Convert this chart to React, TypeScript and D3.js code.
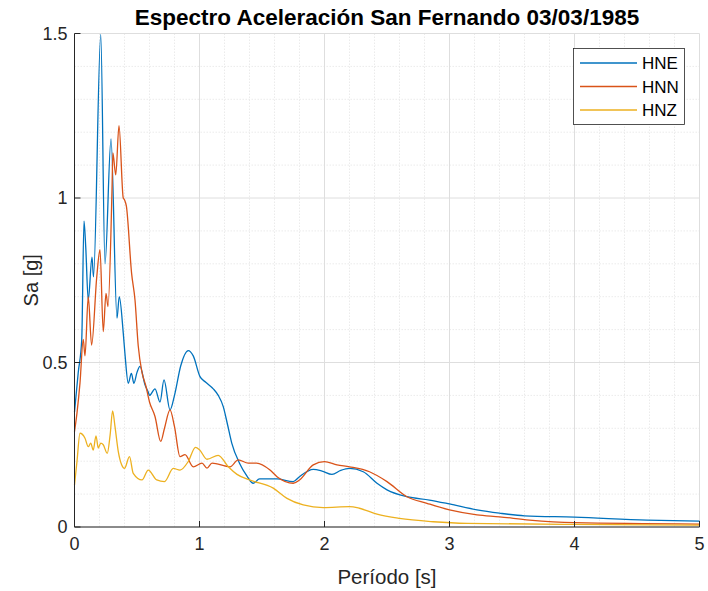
import React from "react";
import * as d3 from "d3";

const hneT = [0,0.03,0.058,0.076,0.09,0.11,0.14,0.152,0.21,0.244,0.292,0.34,0.358,0.39,0.405,0.43,0.455,0.475,0.5,0.524,0.564,0.59,0.6,0.644,0.684,0.716,0.764,0.8,0.85,0.91,0.95,1.004,1.05,1.11,1.15,1.19,1.225,1.258,1.32,1.38,1.43,1.48,1.62,1.75,1.8,1.91,1.98,2.06,2.13,2.2,2.31,2.42,2.5,2.66,2.84,3.0,3.22,3.4,3.6,4.0,4.58,5.0];
const hneV = [0.35,0.47,0.57,0.93,0.85,0.69,0.82,0.76,1.497,0.8,1.18,0.635,0.7,0.59,0.52,0.437,0.467,0.437,0.47,0.488,0.432,0.41,0.4,0.42,0.38,0.447,0.356,0.4,0.49,0.536,0.52,0.457,0.44,0.42,0.4,0.366,0.31,0.255,0.194,0.155,0.133,0.146,0.146,0.138,0.153,0.175,0.17,0.16,0.172,0.178,0.168,0.133,0.113,0.092,0.082,0.07,0.052,0.042,0.034,0.03,0.021,0.018];

const hnnT = [0,0.02,0.044,0.07,0.084,0.11,0.137,0.178,0.204,0.23,0.252,0.268,0.3,0.307,0.33,0.356,0.39,0.4,0.415,0.457,0.484,0.51,0.54,0.57,0.6,0.644,0.69,0.72,0.764,0.8,0.844,0.884,0.95,1.02,1.06,1.1,1.244,1.31,1.39,1.457,1.564,1.62,1.75,1.8,1.91,2.0,2.1,2.2,2.36,2.5,2.66,2.82,3.0,3.22,3.4,3.64,4.0,5.0];
const hnnV = [0.29,0.347,0.438,0.57,0.52,0.7,0.553,0.76,0.843,0.594,0.71,0.67,1.025,1.137,1.07,1.22,1.0,0.995,0.975,0.77,0.69,0.55,0.47,0.43,0.38,0.336,0.26,0.3,0.356,0.305,0.214,0.22,0.183,0.194,0.179,0.194,0.183,0.204,0.194,0.194,0.173,0.153,0.133,0.143,0.189,0.199,0.189,0.183,0.168,0.138,0.092,0.072,0.052,0.037,0.031,0.021,0.013,0.009];

const hnzT = [0,0.02,0.044,0.084,0.11,0.13,0.15,0.172,0.19,0.21,0.23,0.262,0.285,0.305,0.324,0.35,0.377,0.4,0.44,0.47,0.54,0.59,0.658,0.72,0.79,0.844,0.91,0.968,1.0,1.06,1.15,1.23,1.3,1.4,1.59,1.7,1.83,1.99,2.2,2.28,2.42,2.6,2.87,3.14,4.0,5.0];
const hnzV = [0.128,0.2,0.285,0.27,0.244,0.255,0.234,0.277,0.24,0.255,0.25,0.224,0.28,0.353,0.305,0.23,0.189,0.178,0.214,0.163,0.143,0.173,0.143,0.138,0.178,0.173,0.199,0.242,0.235,0.206,0.218,0.183,0.16,0.143,0.118,0.087,0.067,0.059,0.062,0.057,0.039,0.026,0.016,0.011,0.008,0.006];

const seriesNames = ["HNE", "HNN", "HNZ"];
const seriesColors = ["#0072BD", "#D95319", "#EDB120"];
const xTicks = [0, 1, 2, 3, 4, 5];
const yTicks = [0, 0.5, 1, 1.5];
const titleText = "Espectro Aceleración San Fernando 03/03/1985";
const xLabel = "Período [s]";
const yLabel = "Sa [g]";

export default function App() {
  const W = 708, H = 591;
  const L = 74.5, R = 699.5, T = 33.5, B = 527;
  const x = d3.scaleLinear().domain([0, 5]).range([L, R]);
  const y = d3.scaleLinear().domain([0, 1.5]).range([B, T]);
  const line = d3.line<[number, number]>().x(d => x(d[0])).y(d => y(d[1])).curve(d3.curveMonotoneX);
  const data = [
    hneT.map((t, i) => [t, hneV[i]] as [number, number]),
    hnnT.map((t, i) => [t, hnnV[i]] as [number, number]),
    hnzT.map((t, i) => [t, hnzV[i]] as [number, number]),
  ];
  const minorX = d3.range(0, 5.001, 0.2).filter(v => Math.abs(v - Math.round(v)) > 1e-6);
  const minorY = d3.range(0, 1.5001, 0.1).filter(v => Math.abs(v * 2 - Math.round(v * 2)) > 1e-6);
  const font = "'Liberation Sans', Arial, Helvetica, sans-serif";
  const tc = "#262626";
  return (
    <svg width={W} height={H} style={{ position: "absolute", left: 0, top: 0, background: "#fff" }} fontFamily={font}>
      <rect x={0} y={0} width={W} height={H} fill="#fff" />
      {minorX.map((v, i) => (
        <line key={"mx" + i} x1={x(v)} x2={x(v)} y1={T} y2={B} stroke="#e6e6e6" strokeWidth={0.8} strokeDasharray="1.5,1.5" />
      ))}
      {minorY.map((v, i) => (
        <line key={"my" + i} x1={L} x2={R} y1={y(v)} y2={y(v)} stroke="#e6e6e6" strokeWidth={0.8} strokeDasharray="1.5,1.5" />
      ))}
      {xTicks.map((v, i) => (
        <line key={"gx" + i} x1={x(v)} x2={x(v)} y1={T} y2={B} stroke="#dedede" strokeWidth={1} />
      ))}
      {yTicks.map((v, i) => (
        <line key={"gy" + i} x1={L} x2={R} y1={y(v)} y2={y(v)} stroke="#dedede" strokeWidth={1} />
      ))}
      {data.map((d, i) => (
        <path key={"s" + i} d={line(d) || ""} fill="none" stroke={seriesColors[i]} strokeWidth={1.3} strokeLinejoin="round" />
      ))}
      <line x1={L} x2={L} y1={T} y2={B} stroke={tc} strokeWidth={1} />
      <line x1={L} x2={R} y1={B} y2={B} stroke={tc} strokeWidth={1} />
      {xTicks.map((v, i) => (
        <g key={"xt" + i}>
          <line x1={x(v)} x2={x(v)} y1={B} y2={B - 6} stroke={tc} strokeWidth={1} />
          <text x={x(v)} y={B + 23} textAnchor="middle" fontSize={18} fill={tc}>{v}</text>
        </g>
      ))}
      {yTicks.map((v, i) => (
        <g key={"yt" + i}>
          <line x1={L} x2={L + 6} y1={y(v)} y2={y(v)} stroke={tc} strokeWidth={1} />
          <text x={L - 7} y={y(v) + 6} textAnchor="end" fontSize={18} fill={tc}>{v}</text>
        </g>
      ))}
      <text x={(L + R) / 2} y={25} textAnchor="middle" fontSize={22.5} fontWeight="bold" fill="#000">{titleText}</text>
      <text x={(L + R) / 2} y={584} textAnchor="middle" fontSize={20.5} fill={tc}>{xLabel}</text>
      <text transform={`translate(38,${(T + B) / 2}) rotate(-90)`} textAnchor="middle" fontSize={20} fill={tc}>{yLabel}</text>
      <g>
        <rect x={573.5} y={48.5} width={111} height={76} fill="#fff" stroke={tc} strokeWidth={0.8} />
        {seriesNames.map((n, i) => (
          <g key={"lg" + i}>
            <line x1={580} x2={637} y1={63 + i * 23.5} y2={63 + i * 23.5} stroke={seriesColors[i]} strokeWidth={1.3} />
            <text x={642} y={63 + i * 23.5 + 6} fontSize={17} fill="#000">{n}</text>
          </g>
        ))}
      </g>
    </svg>
  );
}
